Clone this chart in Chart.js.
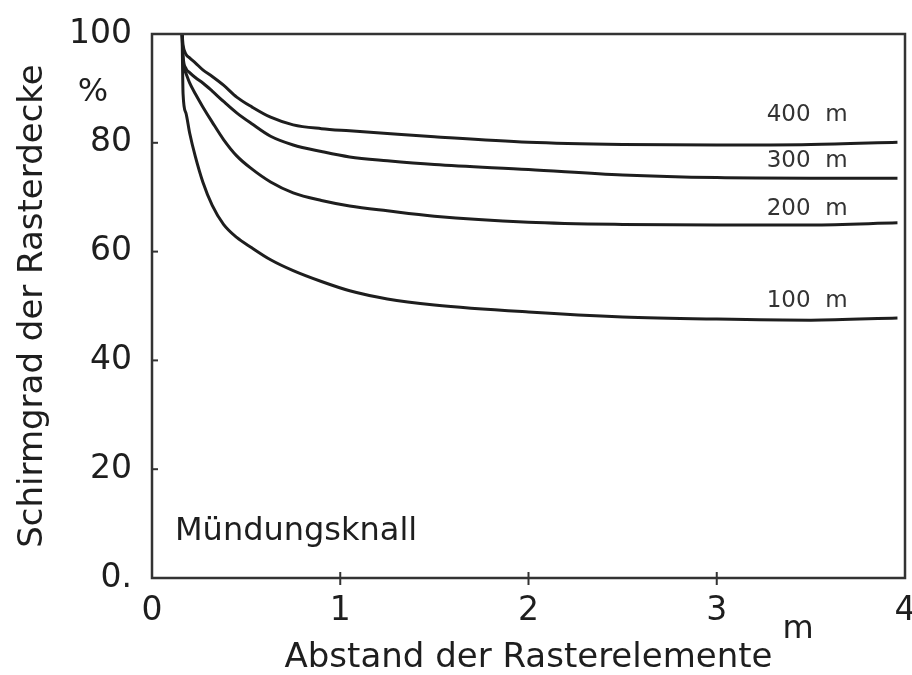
<!DOCTYPE html>
<html>
<head>
<meta charset="utf-8">
<script src="https://cdn.jsdelivr.net/npm/chart.js@4"></script>
<style>
  html, body { margin: 0; padding: 0; background: #fff; }
  #wrap { width: 912px; height: 675px; }
</style>
</head>
<body>
<div id="wrap"><canvas id="chart" width="912" height="675"></canvas></div>
<script>
// ===== DATA =====
const distances = [0.16, 0.165, 0.18, 0.2, 0.23, 0.27, 0.32, 0.38, 0.45, 0.53, 0.63, 0.75, 0.9, 1.05, 1.25, 1.5, 2.0, 2.5, 3.0, 3.5, 3.96];
const curve400 = [100, 98, 96.3, 95.6, 94.7, 93.4, 92.2, 90.6, 88.4, 86.6, 84.7, 83.3, 82.6, 82.2, 81.7, 81.1, 80.1, 79.7, 79.6, 79.7, 80.1];
const curve300 = [100, 96, 93.7, 92.9, 92, 91, 89.5, 87.6, 85.5, 83.5, 81.2, 79.6, 78.4, 77.4, 76.7, 76, 75.1, 74.1, 73.6, 73.5, 73.5];
const curve200 = [100, 95, 92.8, 91, 89, 86.6, 83.8, 80.6, 77.6, 75.2, 72.8, 70.8, 69.4, 68.4, 67.5, 66.5, 65.4, 65, 64.9, 64.9, 65.3];
const curve100 = [100, 89, 85.5, 81.8, 77.5, 72.8, 68.5, 65, 62.6, 60.7, 58.5, 56.5, 54.5, 52.8, 51.3, 50.2, 48.9, 48, 47.6, 47.4, 47.8];
const curveLabels = ["400  m", "300  m", "200  m", "100  m"];
const labelX = [3.48, 3.48, 3.48, 3.48];
const labelY = [85.1, 76.6, 67.9, 50.9];
const xTicks = [0, 1, 2, 3, 4];
const yTicks = [0, 20, 40, 60, 80, 100];

const INK = "#1e1e1e";
const FONT = "'DejaVu Sans', sans-serif";

function toPoints(ys) {
  return distances.map((x, i) => ({ x: x, y: ys[i] }));
}

function lineSet(ys) {
  return {
    data: toPoints(ys),
    borderColor: INK,
    borderWidth: 3,
    pointRadius: 0,
    fill: false,
    cubicInterpolationMode: "monotone"
  };
}

// ===== EXTRA DRAWING =====
const decor = {
  id: "decor",
  afterDraw(chart) {
    const ctx = chart.ctx;
    const a = chart.chartArea;
    const xs = chart.scales.x;
    const ys = chart.scales.y;
    ctx.save();

    // frame
    ctx.strokeStyle = "#333";
    ctx.lineWidth = 2.5;
    ctx.strokeRect(a.left, a.top, a.right - a.left, a.bottom - a.top);

    // x tick marks crossing the axis
    ctx.lineWidth = 2;
    xTicks.slice(1, -1).forEach(v => {
      const px = xs.getPixelForValue(v);
      ctx.beginPath();
      ctx.moveTo(px, a.bottom - 6);
      ctx.lineTo(px, a.bottom + 7);
      ctx.stroke();
    });

    // y tick marks inward
    yTicks.slice(1, -1).forEach(v => {
      const py = ys.getPixelForValue(v);
      ctx.beginPath();
      ctx.moveTo(a.left, py);
      ctx.lineTo(a.left + 6, py);
      ctx.stroke();
    });

    // curve labels
    ctx.fillStyle = "#333";
    ctx.font = "23px " + FONT;
    ctx.textAlign = "center";
    ctx.textBaseline = "middle";
    curveLabels.forEach((t, i) => {
      ctx.fillText(t, xs.getPixelForValue(labelX[i]), ys.getPixelForValue(labelY[i]));
    });

    // annotation
    ctx.fillStyle = INK;
    ctx.font = "32px " + FONT;
    ctx.textAlign = "left";
    ctx.textBaseline = "alphabetic";
    ctx.fillText("Mündungsknall", a.left + 23, a.bottom - 38);

    // units
    ctx.font = "32px " + FONT;
    ctx.textAlign = "center";
    ctx.textBaseline = "middle";
    ctx.fillText("%", 93, 93);
    ctx.fillText("m", 798, 630);

    ctx.restore();
  }
};

// ===== CHART =====
new Chart(document.getElementById("chart"), {
  type: "line",
  data: {
    datasets: [lineSet(curve400), lineSet(curve300), lineSet(curve200), lineSet(curve100)]
  },
  options: {
    responsive: false,
    animation: false,
    layout: { padding: { top: 34, right: 7, left: 0, bottom: 0 } },
    plugins: { legend: { display: false }, tooltip: { enabled: false } },
    scales: {
      x: {
        type: "linear",
        min: 0,
        max: 4,
        afterFit: s => { s.height = 97; s.paddingLeft = 0; s.paddingRight = 0; },
        afterBuildTicks: s => { s.ticks = xTicks.map(v => ({ value: v })); },
        grid: { display: false, drawTicks: false },
        border: { display: false },
        ticks: { color: INK, font: { family: FONT, size: 33 }, padding: 14, maxRotation: 0 },
        title: {
          display: true,
          text: "Abstand der Rasterelemente",
          color: INK,
          font: { family: FONT, size: 34, lineHeight: 1 },
          padding: 0
        }
      },
      y: {
        min: 0,
        max: 100,
        afterFit: s => { s.width = 152; s.paddingTop = 0; s.paddingBottom = 0; },
        afterBuildTicks: s => { s.ticks = yTicks.map(v => ({ value: v })); },
        grid: { display: false, drawTicks: false },
        border: { display: false },
        ticks: {
          color: INK,
          font: { family: FONT, size: 33 },
          padding: 20,
          callback: v => (v === 0 ? "0." : String(v))
        },
        title: {
          display: true,
          text: "Schirmgrad der Rasterdecke",
          color: INK,
          font: { family: FONT, size: 34, lineHeight: 1 },
          padding: { top: 16, bottom: 0 }
        }
      }
    }
  },
  plugins: [decor]
});
</script>
</body>
</html>
